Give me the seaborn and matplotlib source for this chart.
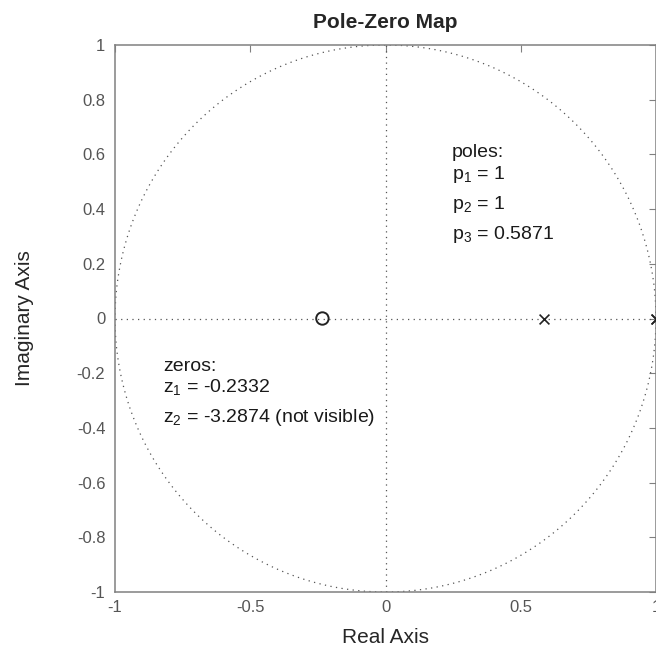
import numpy as np
import pandas as pd
import seaborn as sns
import matplotlib.pyplot as plt

# pole / zero values
zeros_re = [-0.2332]
zeros_im = [0.0]
poles_re = [1.0, 1.0, 0.5871]
poles_im = [0.0, 0.0, 0.0]
x_ticks = [-1, -0.5, 0, 0.5, 1]
x_ticklabels = ["-1", "-0.5", "0", "0.5", "1"]
y_ticks = [-1, -0.8, -0.6, -0.4, -0.2, 0, 0.2, 0.4, 0.6, 0.8, 1]
y_ticklabels = ["-1", "-0.8", "-0.6", "-0.4", "-0.2", "0", "0.2", "0.4", "0.6", "0.8", "1"]
pole_lines = ["poles:", r"p$_1$ = 1", r"p$_2$ = 1", r"p$_3$ = 0.5871"]
zero_lines = ["zeros:", r"z$_1$ = -0.2332", r"z$_2$ = -3.2874 (not visible)"]

sns.set_style("white")
plt.rcParams["font.family"] = ["Liberation Sans", "DejaVu Sans"]
plt.rcParams["mathtext.fontset"] = "custom"
plt.rcParams["mathtext.rm"] = "Liberation Sans"
plt.rcParams["mathtext.it"] = "Liberation Sans"

fig = plt.figure(figsize=(6.56, 6.52), dpi=100)
ax = fig.add_axes([115 / 656, 1 - 592 / 652, 541 / 656, 547 / 652])

dots = (0, (1, 3.5))
gridc = "#555555"

# unit circle
theta = np.linspace(0, 2 * np.pi, 500)
circ = pd.DataFrame({"re": np.cos(theta), "im": np.sin(theta)})
sns.lineplot(data=circ, x="re", y="im", sort=False, ax=ax, color=gridc,
             linestyle=dots, linewidth=0.9, estimator=None)
ax.axhline(0, color=gridc, linestyle=dots, linewidth=0.9)
ax.axvline(0, color=gridc, linestyle=dots, linewidth=0.9)

zdf = pd.DataFrame({"re": zeros_re, "im": zeros_im})
pdf = pd.DataFrame({"re": poles_re, "im": poles_im})
sns.scatterplot(data=zdf, x="re", y="im", ax=ax, marker="o", s=80,
                facecolor="none", edgecolor="#222222", linewidth=1.4, zorder=5)
sns.scatterplot(data=pdf, x="re", y="im", ax=ax, marker="x", s=50,
                color="#222222", linewidth=1.2, zorder=5, clip_on=False)

ax.set_xlim(-1, 1)
ax.set_ylim(-1, 1)
ax.set_xticks(x_ticks)
ax.set_xticklabels(x_ticklabels)
ax.set_yticks(y_ticks)
ax.set_yticklabels(y_ticklabels)
ax.tick_params(direction="in", length=5, color="#808080", labelcolor="#555555",
               labelsize=12, top=True, right=True, width=0.8, pad=6)
ax.tick_params(axis="y", pad=7)
for s in ax.spines.values():
    s.set_color("#808080")
    s.set_linewidth(1.1)

ax.set_xlabel("Real Axis", fontsize=15, color="#262626", labelpad=9)
ax.set_ylabel("Imaginary Axis", fontsize=15, color="#262626", labelpad=31)
ax.set_title("Pole-Zero Map", fontsize=15, fontweight="bold", pad=12)

pole_y = [0.590, 0.510, 0.400, 0.291]
for txt, yy in zip(pole_lines, pole_y):
    ax.text(0.244, yy, txt, fontsize=14, va="baseline", color="#1a1a1a")

zero_y = [-0.192, -0.269, -0.378]
for txt, yy in zip(zero_lines, zero_y):
    ax.text(-0.822, yy, txt, fontsize=14, va="baseline", color="#1a1a1a")

fig.savefig("out.png", dpi=100)
